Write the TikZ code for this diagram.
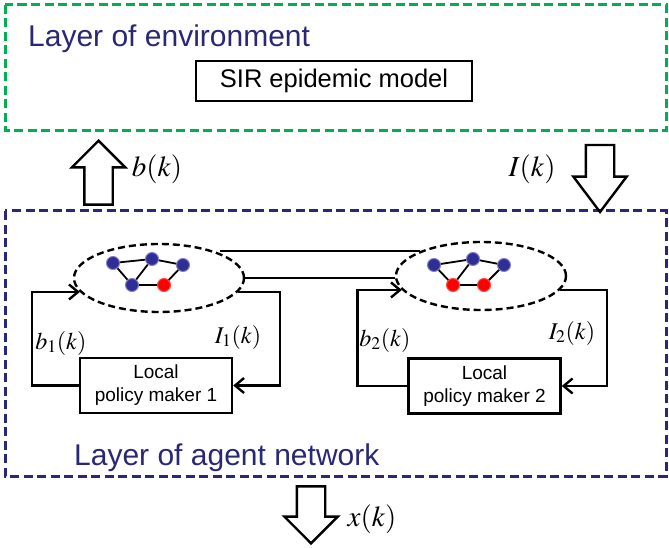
\documentclass[tikz,border=0pt]{standalone}
\usepackage{mathptmx}
\usepackage[no-math]{fontspec}
\setmainfont{Liberation Sans}
\usetikzlibrary{shapes.geometric,shapes.arrows,arrows.meta}
\definecolor{envgreen}{RGB}{0,176,80}
\definecolor{netnavy}{RGB}{40,40,118}
\definecolor{dotblue}{RGB}{46,46,150}
\begin{document}
\begin{tikzpicture}[x=1pt,y=-1pt,line width=2.4pt,
  layer/.style={line width=3pt,dash pattern=on 9pt off 4.5pt},
  title/.style={anchor=base west,text=netnavy,inner sep=0pt,font=\fontsize{30}{36}\selectfont},
  cell/.style={ellipse,draw,dash pattern=on 7pt off 4pt,minimum width=170pt,minimum height=68pt,inner sep=0pt},
  agent/.style={circle,fill=dotblue,draw=dotblue!60,line width=1pt,minimum size=13pt,inner sep=0pt},
  sick/.style={agent,fill=red,draw=red!70},
  policy/.style={draw,align=center,minimum width=152pt,minimum height=55pt,font=\fontsize{19}{23}\selectfont},
  flow/.style={single arrow,draw,anchor=tip,minimum height=#1,inner xsep=0pt,inner ysep=13pt,single arrow head extend=12.5pt,single arrow head indent=0pt},
  fb/.style={-{Straight Barb[length=9pt,width=15pt]}},
  sig/.style={font=\fontsize{24}{28}\selectfont},
  bigsig/.style={font=\fontsize{29}{34}\selectfont}]
  \useasboundingbox (0,0) rectangle (669,548);
  \draw[layer,envgreen] (5,5) rectangle (666,131);
  \draw[layer,netnavy] (5,211) rectangle (666,476);
  \node[title] (envtitle) at (27,47) {Layer of environment};
  \node[title] (nettitle) at (73,465) {Layer of agent network};
  \node[draw,minimum width=276pt,minimum height=40pt,font=\fontsize{25.5}{30}\selectfont] (sir) at (334,81) {SIR epidemic model};

  \node[flow=64pt,rotate=90] (bup) at (98.5,139) {};
  \node[bigsig] (blbl) at (157,169) {$b(k)$};
  \node[flow=67pt,rotate=-90,single arrow tip angle=74] (idown) at (600,214) {};
  \node[bigsig] (ilbl) at (532,169) {$I(k)$};
  \node[flow=57pt,rotate=-90] (xdown) at (311,545) {};
  \node[bigsig] (xlbl) at (372,519) {$x(k)$};

  \node[cell] (cell1) at (159,278) {};
  \node[cell] (cell2) at (481,276) {};
  \draw (cell2.north west) -- (cell2.north west -| cell1.north east);
  \draw (cell1.east) -- (cell1.east -| cell2.west);

  \node[agent] (a1) at (113,263) {};
  \node[agent] (b1) at (152,259) {};
  \node[agent] (c1) at (183,265) {};
  \node[agent] (d1) at (132,285) {};
  \node[sick] (e1) at (164,285) {};
  \draw[line width=1.8pt] (a1) -- (b1) -- (c1) -- (e1) -- (d1) -- (a1) (b1) -- (d1);

  \node[agent] (a2) at (434,265) {};
  \node[agent] (b2) at (473,259) {};
  \node[agent] (c2) at (504,265) {};
  \node[sick] (d2) at (453,285) {};
  \node[sick] (e2) at (484,285) {};
  \draw[line width=1.8pt] (a2) -- (b2) -- (c2) -- (e2) -- (d2) -- (a2) (b2) -- (d2);

  \node[policy] (pm1) at (156,385.5) {Local\\policy maker 1};
  \node[policy] (pm2) at (484.5,386) {Local\\policy maker 2};

  \draw[fb] (pm1.west) -- ++(-47,0) |- (cell1.190);
  \draw[fb] (cell1.-10) -- ++(42,0) |- (pm1.east);
  \draw[fb] (pm2.west) -- ++(-50,0) |- (cell2.190);
  \draw[fb] (cell2.-10) -- ++(47,0) |- (pm2.east);

  \node[sig] (b1lbl) at (61,343) {$b_1(k)$};
  \node[sig] (i1lbl) at (238,337) {$I_1(k)$};
  \node[sig] (b2lbl) at (385,340) {$b_2(k)$};
  \node[sig] (i2lbl) at (572,333) {$I_2(k)$};
\end{tikzpicture}
\end{document}
